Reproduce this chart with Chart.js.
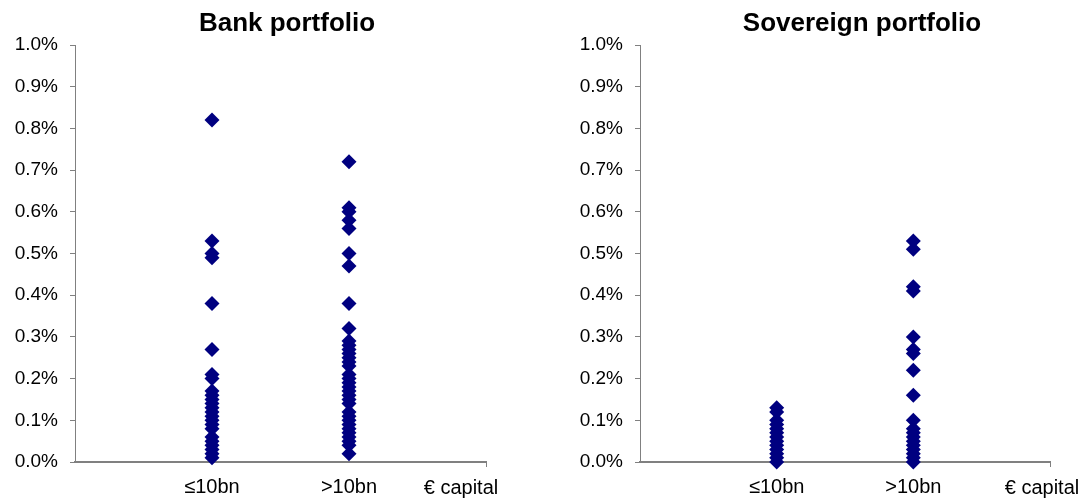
<!DOCTYPE html>
<html>
<head>
<meta charset="utf-8">
<script src="https://cdn.jsdelivr.net/npm/chart.js@4/dist/chart.umd.min.js"></script>
<style>
  html, body { margin: 0; padding: 0; background: #fff; }
  #wrap { position: relative; width: 1080px; height: 502px; }
  .box { position: absolute; top: 0; height: 502px; }
</style>
</head>
<body>
<div id="wrap">
  <div class="box" style="left:0;width:540px"><canvas id="c1"></canvas></div>
  <div class="box" style="left:540px;width:540px"><canvas id="c2"></canvas></div>
</div>
<script>
// ---- data (values in %) ----
const xCategories = ["≤10bn", ">10bn"];
const xEndLabel = "€ capital";
const yTicks = [0, 0.1, 0.2, 0.3, 0.4, 0.5, 0.6, 0.7, 0.8, 0.9, 1.0];
const titles = ["Bank portfolio", "Sovereign portfolio"];

const bankSmall = [0.82, 0.53, 0.50, 0.49, 0.38, 0.27, 0.21, 0.20, 0.17, 0.16, 0.15, 0.14, 0.13, 0.12, 0.11, 0.10, 0.09, 0.08, 0.06, 0.05, 0.04, 0.03, 0.02, 0.01];
const bankLarge = [0.72, 0.61, 0.60, 0.58, 0.56, 0.50, 0.47, 0.38, 0.32, 0.29, 0.28, 0.27, 0.26, 0.25, 0.24, 0.23, 0.21, 0.20, 0.19, 0.18, 0.17, 0.16, 0.15, 0.14, 0.12, 0.11, 0.10, 0.09, 0.08, 0.07, 0.06, 0.05, 0.04, 0.02];
const sovSmall = [0.13, 0.12, 0.10, 0.09, 0.08, 0.07, 0.06, 0.05, 0.04, 0.03, 0.02, 0.01, 0.00];
const sovLarge = [0.53, 0.51, 0.42, 0.41, 0.30, 0.27, 0.26, 0.22, 0.16, 0.10, 0.08, 0.07, 0.06, 0.05, 0.04, 0.03, 0.02, 0.01, 0.00];

const FONT = "'Liberation Sans', Arial, sans-serif";
const NAVY = "#000080";
const AXIS = "#808080";

function pts(cat, arr) { return arr.map(v => ({ x: cat, y: v })); }

const textPlugin = {
  id: 'texts',
  afterDraw(chart, args, opts) {
    const ctx = chart.ctx;
    ctx.save();
    ctx.fillStyle = '#000';
    ctx.textBaseline = 'middle';
    ctx.textAlign = 'center';
    ctx.font = "bold 26px " + FONT;
    ctx.fillText(opts.title, opts.titleX, 24);
    ctx.font = "20px " + FONT;
    ctx.fillText(xEndLabel, chart.chartArea.right + opts.endOffset, 488);
    ctx.restore();
  }
};

function makeChart(id, small, large, title, yWidth, padRight, titleX, endOffset) {
  return new Chart(document.getElementById(id), {
    type: 'scatter',
    data: {
      datasets: [
        { data: pts(1, small), pointStyle: 'rectRot', pointRadius: 7.5, pointHoverRadius: 7.5,
          backgroundColor: NAVY, borderColor: NAVY, borderWidth: 0, clip: false },
        { data: pts(2, large), pointStyle: 'rectRot', pointRadius: 7.5, pointHoverRadius: 7.5,
          backgroundColor: NAVY, borderColor: NAVY, borderWidth: 0, clip: false }
      ]
    },
    options: {
      responsive: true,
      maintainAspectRatio: false,
      animation: false,
      events: [],
      layout: { padding: { top: 45, right: padRight, left: 0, bottom: 0 } },
      plugins: {
        legend: { display: false },
        tooltip: { enabled: false },
        title: { display: false },
        texts: { title: title, titleX: titleX, endOffset: endOffset }
      },
      scales: {
        x: {
          type: 'linear', min: 0, max: 3,
          afterBuildTicks: (s) => { s.ticks = [1, 2, 3].map(v => ({ value: v })); },
          afterFit: (s) => { s.height = 40; },
          ticks: {
            autoSkip: false, maxRotation: 0, padding: 8,
            font: { family: FONT, size: 20 }, color: '#000',
            callback: (v) => (v === 1 || v === 2) ? xCategories[v - 1] : ''
          },
          grid: {
            drawOnChartArea: false, drawTicks: true, tickLength: 5,
            color: (c) => (c.tick && c.tick.value === 3) ? AXIS : 'rgba(0,0,0,0)'
          },
          border: { display: true, color: AXIS, width: 2 }
        },
        y: {
          min: 0, max: 1,
          afterBuildTicks: (s) => { s.ticks = yTicks.map(v => ({ value: v })); },
          afterFit: (s) => { s.width = yWidth; },
          ticks: {
            padding: 12, font: { family: FONT, size: 19 }, color: '#000',
            callback: (v) => v.toFixed(1) + '%'
          },
          grid: { drawOnChartArea: false, drawTicks: true, tickLength: 5, color: AXIS },
          border: { display: true, color: AXIS, width: 1 }
        }
      }
    },
    plugins: [textPlugin]
  });
}

makeChart('c1', bankSmall, bankLarge, titles[0], 75, 54, 287, -25);
makeChart('c2', sovSmall, sovLarge, titles[1], 100, 30, 322, -8);
</script>
</body>
</html>
